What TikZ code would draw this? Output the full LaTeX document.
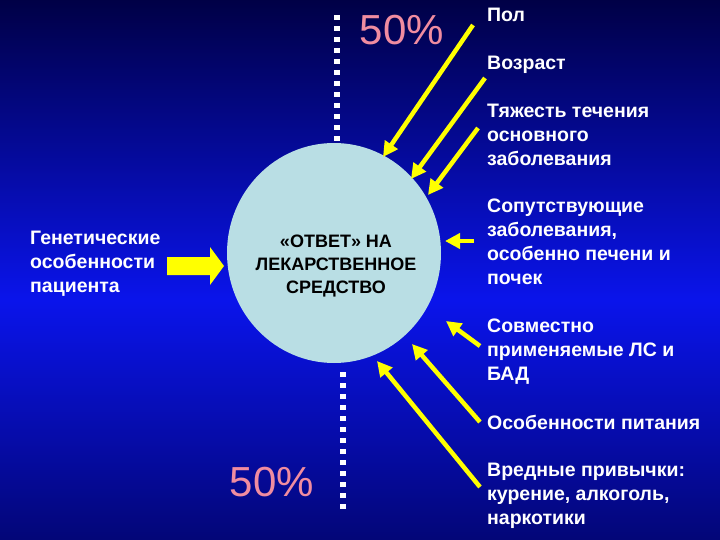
\documentclass[tikz,border=0pt]{standalone}
\usepackage{fontspec}
\setmainfont{Liberation Sans}
\usetikzlibrary{arrows.meta,shapes.arrows,shapes.geometric}
\definecolor{navy}{RGB}{0,0,70}
\definecolor{bblue}{RGB}{10,20,235}
\definecolor{circ}{RGB}{185,222,228}
\definecolor{pinkish}{RGB}{240,140,160}
\definecolor{yel}{RGB}{255,255,0}
\begin{document}
\begin{tikzpicture}[x=1pt,y=-1pt,
  lbl/.style={text=white,font=\fontsize{19.5}{24}\selectfont\bfseries,align=left,anchor=north west,inner sep=0},
  pct/.style={text=pinkish,font=\fontsize{42}{42}\selectfont},
  yarr/.style={draw=yel,line width=4.5pt,-{Triangle[length=15pt,width=15pt]}},
  dots/.style={white,line width=6pt,dash pattern=on 5pt off 6pt}]
\shade[top color=navy,bottom color=bblue] (0,0) rectangle (720,300);
\shade[top color=bblue,bottom color=navy!70!bblue] (0,300) rectangle (720,540);
\useasboundingbox (0,0) rectangle (720,540);
\draw[dots] (337,15) -- (337,152);
\draw[dots] (343,372) -- (343,512);
\node[ellipse,fill=circ,minimum width=214,minimum height=220,inner sep=0] (c) at (334,253) {};
\node[align=center,font=\fontsize{18}{23}\selectfont\bfseries] (ct) at (336,266) {«ОТВЕТ» НА\\ЛЕКАРСТВЕННОЕ\\СРЕДСТВО};
\node[pct] (p1) at (402,30) {50\%};
\node[pct] (p2) at (272,482) {50\%};
\node[lbl] (l1) at (487,8) {Пол};
\node[lbl] (l2) at (487,56) {Возраст};
\node[lbl] (l3) at (487,104) {Тяжесть течения\\основного\\заболевания};
\node[lbl] (l4) at (487,199) {Сопутствующие\\заболевания,\\особенно печени и\\почек};
\node[lbl] (l5) at (487,319) {Совместно\\применяемые ЛС и\\БАД};
\node[lbl] (l6) at (487,415) {Особенности питания};
\node[lbl] (l7) at (487,463) {Вредные привычки:\\курение, алкоголь,\\наркотики};
\node[lbl] (l0) at (30,231) {Генетические\\особенности\\пациента};
\fill[yel] (167,257) -- (210,257) -- (210,247) -- (224,266) -- (210,285) -- (210,275) -- (167,275) -- cycle;
\coordinate (a1s) at (473,25); \coordinate (a1e) at (383,157);
\coordinate (a2s) at (485,78); \coordinate (a2e) at (411,179);
\coordinate (a3s) at (478,128); \coordinate (a3e) at (428,195);
\coordinate (a4s) at (474,241); \coordinate (a4e) at (445,241);
\coordinate (a5s) at (480,346); \coordinate (a5e) at (446,321);
\coordinate (a6s) at (480,422); \coordinate (a6e) at (412,344);
\coordinate (a7s) at (480,487); \coordinate (a7e) at (377,361);
\foreach \i in {1,2,3,4,5,6,7} \draw[yarr] (a\i s) -- (a\i e);
\end{tikzpicture}
\end{document}
